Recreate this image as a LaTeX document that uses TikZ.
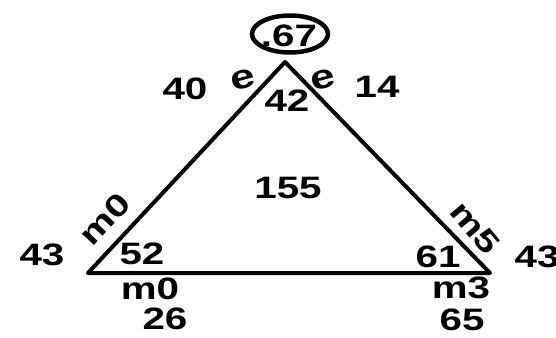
\documentclass[tikz,border=0pt]{standalone}
\usepackage{fontspec}
\newfontfamily\hand[FakeStretch=1.3,BoldFont={Liberation Sans Bold}]{Liberation Sans}
\usetikzlibrary{shapes.geometric}
\begin{document}
\begin{tikzpicture}[x=1pt,y=-1pt,
  edge/.style={line width=4pt,line join=round,line cap=round},
  lbl/.style={font=\hand\bfseries\fontsize{31}{33}\selectfont,inner sep=0pt},
  loop/.style={font=\hand\bfseries\fontsize{34}{36}\selectfont,inner sep=0pt}]
\useasboundingbox (0,0) rectangle (556,337);
\coordinate (A) at (285,62);
\coordinate (B) at (88,273);
\coordinate (C) at (490,273);
\draw[edge] (B) -- (A) -- (C) -- cycle;
\node[lbl] (p) at (289,36) {.67};
\node[draw,ellipse,line width=4.5pt,minimum width=76pt,minimum height=37pt] (circ) at (290,34) {};
\node[lbl] (n40) at (185,89) {40};
\node[loop,rotate=15,xscale=1] (eL) at (243,80) {e};
\node[loop,rotate=15] (eR) at (323,80) {e};
\node[lbl] (n14) at (377,87) {14};
\node[lbl] (n42) at (287,101) {42};
\node[lbl] (n155) at (288,188) {155};
\node[lbl,rotate=47] (m0a) at (105,219) {m0};
\node[lbl] (n43a) at (42,255) {43};
\node[lbl] (n52) at (142,254) {52};
\node[lbl] (m0b) at (150,289) {m0};
\node[lbl] (n26) at (165,319) {26};
\node[lbl,rotate=-50] (m5) at (475,228) {m5};
\node[lbl] (n61) at (438,257) {61};
\node[lbl] (n43b) at (537,257) {43};
\node[lbl] (m3) at (461,288) {m3};
\node[lbl] (n65) at (462,320) {65};
\end{tikzpicture}
\end{document}
